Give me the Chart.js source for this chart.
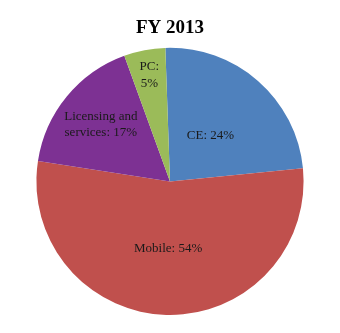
<!DOCTYPE html>
<html>
<head>
<meta charset="utf-8">
<script src="https://cdn.jsdelivr.net/npm/chart.js@4"></script>
<style>
  html, body { margin: 0; padding: 0; background: #ffffff; }
  #wrap { width: 340px; height: 333px; }
</style>
</head>
<body>
<div id="wrap"><canvas id="chart"></canvas></div>
<script>
// Segment data, clockwise from the top
const categories = ['CE', 'Mobile', 'Licensing and services', 'PC'];
const shares = [24, 54, 17, 5];
const labelLines = [['CE: 24%'], ['Mobile: 54%'], ['Licensing and', 'services: 17%'], ['PC:', '5%']];

const sliceColors = ['#4F81BD', '#C0504D', '#7D3193', '#9BBB59'];
// how far out (fraction of radius) each label sits, like Excel's best fit
const labelRadius = [0.46, 0.5, 0.67, 0.81];

// Draw the data labels inside the slices
const sliceLabels = {
    id: 'sliceLabels',
    afterDatasetsDraw(chart) {
        const ctx = chart.ctx;
        const meta = chart.getDatasetMeta(0);
        ctx.save();
        ctx.font = '13px "Liberation Serif", "Times New Roman", serif';
        ctx.fillStyle = '#1a1a1a';
        ctx.textAlign = 'center';
        ctx.textBaseline = 'middle';
        meta.data.forEach((arc, i) => {
            const mid = (arc.startAngle + arc.endAngle) / 2;
            const r = arc.outerRadius * labelRadius[i];
            const x = arc.x + Math.cos(mid) * r;
            const y = arc.y + Math.sin(mid) * r;
            const lines = labelLines[i];
            const lh = 16.5;
            lines.forEach((t, j) => {
                ctx.fillText(t, x, y + (j - (lines.length - 1) / 2) * lh);
            });
        });
        ctx.restore();
    },
};

new Chart(document.getElementById('chart'), {
    type: 'pie',
    data: {
        labels: categories,
        datasets: [{
            data: shares,
            backgroundColor: sliceColors,
            borderWidth: 0,
        }],
    },
    options: {
        responsive: true,
        maintainAspectRatio: false,
        animation: false,
        rotation: -2,
        layout: {
            padding: { top: 0, bottom: 18, left: 0, right: 0 },
        },
        plugins: {
            legend: { display: false },
            tooltip: { enabled: false },
            title: {
                display: true,
                text: 'FY 2013',
                color: '#000000',
                padding: { top: 17, bottom: 8 },
                font: {
                    family: '"Liberation Serif", "Times New Roman", serif',
                    size: 19,
                    weight: 'bold',
                    lineHeight: 1.2,
                },
            },
        },
    },
    plugins: [sliceLabels],
});
</script>
</body>
</html>
